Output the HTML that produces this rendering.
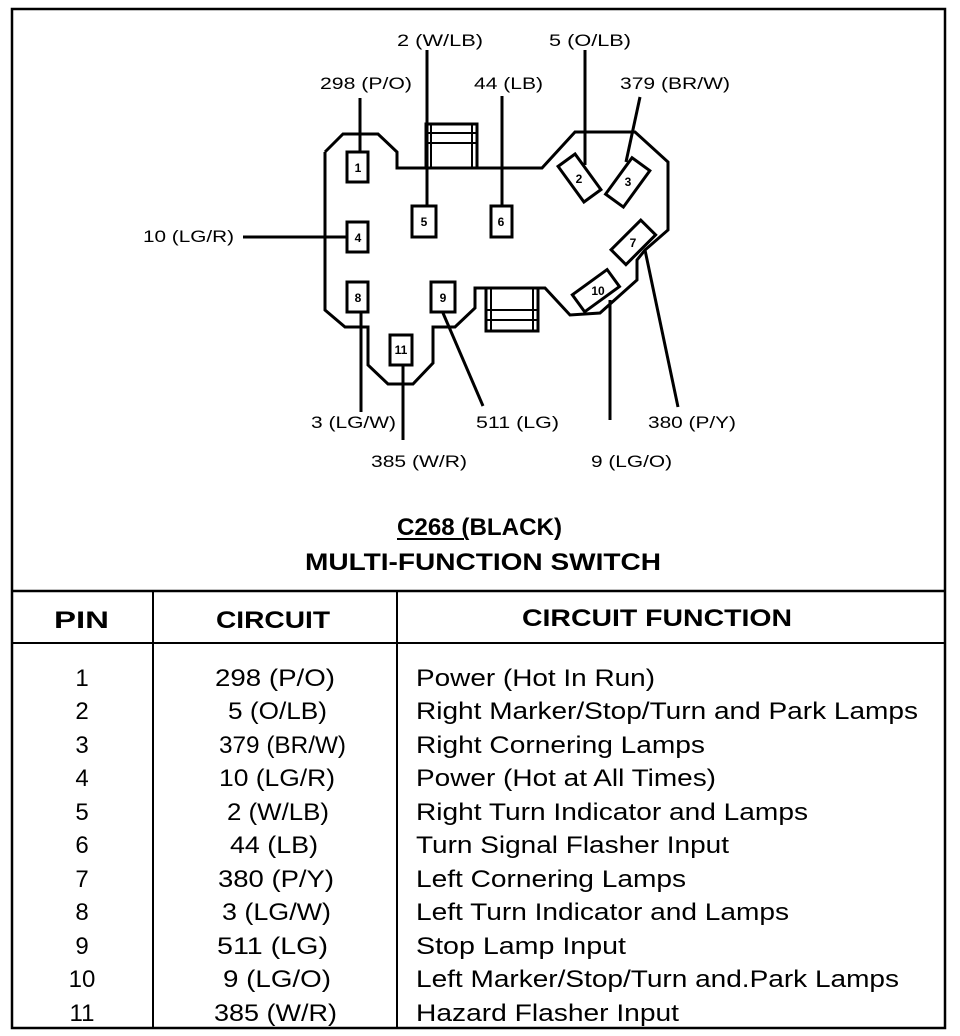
<!DOCTYPE html>
<html><head><style>html,body{margin:0;padding:0;background:#fff}svg{display:block}</style></head>
<body>
<svg width="960" height="1036" viewBox="0 0 960 1036" xmlns="http://www.w3.org/2000/svg" font-family="Liberation Sans, Arial, sans-serif">
<rect width="960" height="1036" fill="#fff"/>
<!-- outer border -->
<rect x="12" y="9" width="933" height="1019" fill="none" stroke="#000" stroke-width="2.5"/>
<line x1="12" y1="591" x2="945" y2="591" stroke="#000" stroke-width="2.5"/>
<line x1="12" y1="643" x2="945" y2="643" stroke="#000" stroke-width="2"/>
<line x1="153" y1="591" x2="153" y2="1028" stroke="#000" stroke-width="2"/>
<line x1="397" y1="591" x2="397" y2="1028" stroke="#000" stroke-width="2"/>

<g stroke="#000" stroke-width="3" fill="none" stroke-linejoin="miter">
<!-- connector outline -->
<polyline points="325,152 343,134 378,134 397,152 397,168 542,168 575,132 635,132 668,162 668,230 645,250 637,260 637,280 600,313 570,315 545,288 475,288 475,308 455,327 433,327 433,363 413,384 388,384 368,365 368,327 345,327 325,310 325,152"/>
<!-- hatch top -->
<rect x="426" y="124" width="51" height="44"/>
<line x1="426" y1="133" x2="477" y2="133" stroke-width="2"/>
<line x1="426" y1="143" x2="477" y2="143" stroke-width="2"/>
<line x1="431" y1="124" x2="431" y2="168" stroke-width="2"/>
<line x1="472" y1="124" x2="472" y2="168" stroke-width="2"/>
<!-- hatch bottom -->
<rect x="486" y="288" width="52" height="43"/>
<line x1="486" y1="310" x2="538" y2="310" stroke-width="2"/>
<line x1="486" y1="320" x2="538" y2="320" stroke-width="2"/>
<line x1="491" y1="288" x2="491" y2="331" stroke-width="2"/>
<line x1="533" y1="288" x2="533" y2="331" stroke-width="2"/>
<!-- pins -->
<rect x="347" y="152" width="21" height="30"/>
<rect x="347" y="222" width="21" height="30"/>
<rect x="347" y="282" width="21" height="30"/>
<rect x="412" y="206" width="24" height="31"/>
<rect x="491" y="206" width="21" height="31"/>
<rect x="431" y="282" width="24" height="30"/>
<rect x="390" y="335" width="22" height="30"/>
<rect x="569" y="156" width="21" height="44" transform="rotate(-36 579.5 178)"/>
<rect x="617" y="160" width="22" height="45" transform="rotate(36 628 182)"/>
<rect x="623" y="221" width="21" height="42" transform="rotate(45 633 242)"/>
<rect x="586" y="269" width="21" height="43" transform="rotate(54 596 290)"/>
<!-- leader lines -->
<line x1="360" y1="98" x2="360" y2="152"/>
<line x1="427" y1="50" x2="427" y2="206"/>
<line x1="502" y1="96" x2="502" y2="206"/>
<line x1="585" y1="50" x2="585" y2="165"/>
<line x1="640" y1="97" x2="626" y2="162"/>
<line x1="243" y1="237" x2="347" y2="237"/>
<line x1="361" y1="312" x2="361" y2="412"/>
<line x1="403" y1="365" x2="403" y2="440"/>
<line x1="443" y1="313" x2="483" y2="406"/>
<line x1="610" y1="300" x2="610" y2="420"/>
<line x1="645" y1="250" x2="678" y2="407"/>
</g>

<!-- pin numbers -->
<g font-size="12" font-weight="bold" text-anchor="middle" fill="#000">
<text x="358" y="172">1</text>
<text x="358" y="242">4</text>
<text x="358" y="302">8</text>
<text x="424" y="226">5</text>
<text x="501" y="226">6</text>
<text x="443" y="302">9</text>
<text x="401" y="354">11</text>
<text x="579" y="183">2</text>
<text x="628" y="186">3</text>
<text x="633" y="247">7</text>
<text x="598" y="295">10</text>
</g>

<!-- diagram labels -->
<g font-size="17" fill="#000">
<text x="397" y="46" textLength="86" lengthAdjust="spacingAndGlyphs">2 (W/LB)</text>
<text x="549" y="46" textLength="82" lengthAdjust="spacingAndGlyphs">5 (O/LB)</text>
<text x="320" y="89" textLength="92" lengthAdjust="spacingAndGlyphs">298 (P/O)</text>
<text x="474" y="89" textLength="69" lengthAdjust="spacingAndGlyphs">44 (LB)</text>
<text x="620" y="89" textLength="110" lengthAdjust="spacingAndGlyphs">379 (BR/W)</text>
<text x="143" y="242" textLength="91" lengthAdjust="spacingAndGlyphs">10 (LG/R)</text>
<text x="311" y="428" textLength="85" lengthAdjust="spacingAndGlyphs">3 (LG/W)</text>
<text x="476" y="428" textLength="83" lengthAdjust="spacingAndGlyphs">511 (LG)</text>
<text x="648" y="428" textLength="88" lengthAdjust="spacingAndGlyphs">380 (P/Y)</text>
<text x="371" y="467" textLength="96" lengthAdjust="spacingAndGlyphs">385 (W/R)</text>
<text x="591" y="467" textLength="81" lengthAdjust="spacingAndGlyphs">9 (LG/O)</text>
</g>

<!-- title -->
<g font-weight="bold" font-size="24" fill="#000">
<text x="397" y="535" textLength="165" lengthAdjust="spacingAndGlyphs">C268 (BLACK)</text>
<line x1="397" y1="539" x2="464" y2="539" stroke="#000" stroke-width="2"/>
<text x="305" y="570" textLength="356" lengthAdjust="spacingAndGlyphs">MULTI-FUNCTION SWITCH</text>
<text x="54" y="628" textLength="55" lengthAdjust="spacingAndGlyphs">PIN</text>
<text x="216" y="628" textLength="114" lengthAdjust="spacingAndGlyphs">CIRCUIT</text>
<text x="522" y="626" textLength="270" lengthAdjust="spacingAndGlyphs">CIRCUIT FUNCTION</text>
</g>

<!-- rows -->
<g font-size="24" fill="#000">
<g text-anchor="middle">
<text x="82" y="686">1</text>
<text x="82" y="719">2</text>
<text x="82" y="753">3</text>
<text x="82" y="786">4</text>
<text x="82" y="820">5</text>
<text x="82" y="853">6</text>
<text x="82" y="887">7</text>
<text x="82" y="920">8</text>
<text x="82" y="954">9</text>
<text x="82" y="987">10</text>
<text x="82" y="1021">11</text>
</g>
<text x="215" y="686" textLength="120" lengthAdjust="spacingAndGlyphs">298 (P/O)</text>
<text x="228" y="719" textLength="99" lengthAdjust="spacingAndGlyphs">5 (O/LB)</text>
<text x="219" y="753" textLength="127" lengthAdjust="spacingAndGlyphs">379 (BR/W)</text>
<text x="219" y="786" textLength="116" lengthAdjust="spacingAndGlyphs">10 (LG/R)</text>
<text x="227" y="820" textLength="102" lengthAdjust="spacingAndGlyphs">2 (W/LB)</text>
<text x="230" y="853" textLength="88" lengthAdjust="spacingAndGlyphs">44 (LB)</text>
<text x="218" y="887" textLength="116" lengthAdjust="spacingAndGlyphs">380 (P/Y)</text>
<text x="222" y="920" textLength="109" lengthAdjust="spacingAndGlyphs">3 (LG/W)</text>
<text x="217" y="954" textLength="111" lengthAdjust="spacingAndGlyphs">511 (LG)</text>
<text x="223" y="987" textLength="108" lengthAdjust="spacingAndGlyphs">9 (LG/O)</text>
<text x="214" y="1021" textLength="123" lengthAdjust="spacingAndGlyphs">385 (W/R)</text>

<text x="416" y="686" textLength="239" lengthAdjust="spacingAndGlyphs">Power (Hot In Run)</text>
<text x="416" y="719" textLength="502" lengthAdjust="spacingAndGlyphs">Right Marker/Stop/Turn and Park Lamps</text>
<text x="416" y="753" textLength="289" lengthAdjust="spacingAndGlyphs">Right Cornering Lamps</text>
<text x="416" y="786" textLength="300" lengthAdjust="spacingAndGlyphs">Power (Hot at All Times)</text>
<text x="416" y="820" textLength="392" lengthAdjust="spacingAndGlyphs">Right Turn Indicator and Lamps</text>
<text x="416" y="853" textLength="313" lengthAdjust="spacingAndGlyphs">Turn Signal Flasher Input</text>
<text x="416" y="887" textLength="270" lengthAdjust="spacingAndGlyphs">Left Cornering Lamps</text>
<text x="416" y="920" textLength="373" lengthAdjust="spacingAndGlyphs">Left Turn Indicator and Lamps</text>
<text x="416" y="954" textLength="210" lengthAdjust="spacingAndGlyphs">Stop Lamp Input</text>
<text x="416" y="987" textLength="483" lengthAdjust="spacingAndGlyphs">Left Marker/Stop/Turn and.Park Lamps</text>
<text x="416" y="1021" textLength="263" lengthAdjust="spacingAndGlyphs">Hazard Flasher Input</text>
</g>
</svg>
</body></html>
